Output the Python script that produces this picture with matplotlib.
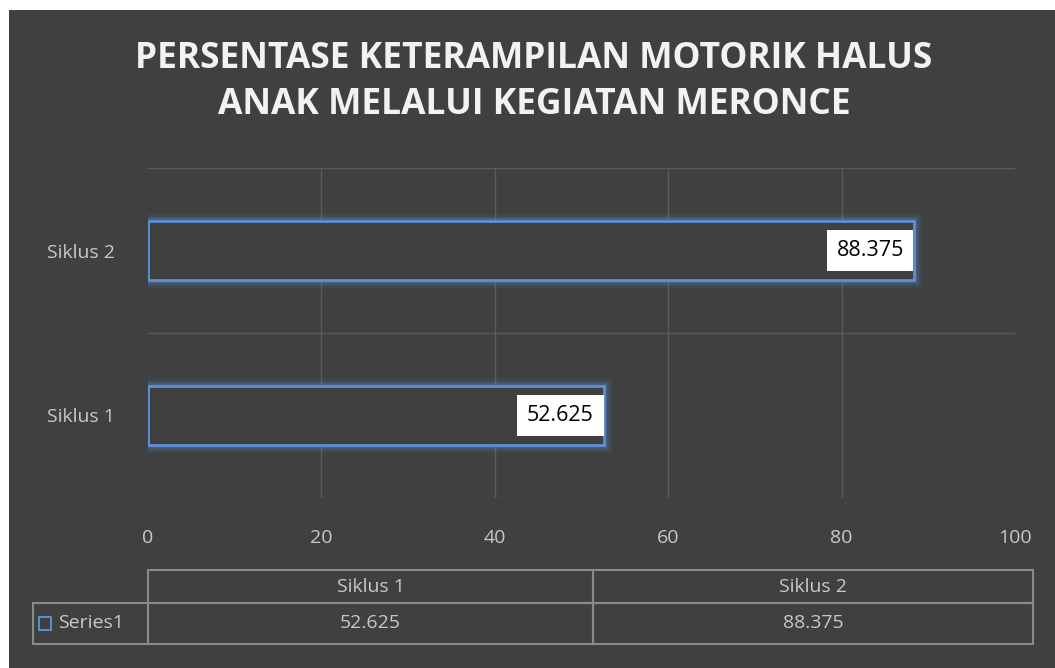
import matplotlib.pyplot as plt
from matplotlib.patches import Rectangle

# Data
categories = ['Siklus 1', 'Siklus 2']
values = [52.625, 88.375]
series_name = 'Series1'
x_ticks = [0, 20, 40, 60, 80, 100]
title = 'PERSENTASE KETERAMPILAN MOTORIK HALUS\nANAK MELALUI KEGIATAN MERONCE'

bg = '#404040'
blue = '#5b8fd8'
txt = '#c8c8c8'
grid = '#5a5a5a'

plt.rcParams['font.family'] = ['Open Sans', 'DejaVu Sans']

fig = plt.figure(figsize=(10.55, 6.68), dpi=100)
fig.patch.set_facecolor('white')
# dark panel (small white margin at top/left like the screenshot)
fig.add_artist(Rectangle((9 / 1055, 0), 1, 1 - 10 / 668, transform=fig.transFigure,
                         facecolor=bg, edgecolor='none', zorder=0))

ax = fig.add_axes([148 / 1055, 1 - 498 / 668, 867 / 1055, 330 / 668])
ax.set_facecolor(bg)
ax.patch.set_alpha(0)

pos = list(range(len(categories)))
bar_h = 0.36

# soft glow around the bars
for lw, a in [(12, 0.06), (9, 0.09), (6.5, 0.13), (4, 0.22)]:
    ax.barh(pos, values, height=bar_h, facecolor='none', edgecolor=blue,
            linewidth=lw, alpha=a, zorder=3)
ax.barh(pos, values, height=bar_h, facecolor=bg, edgecolor=blue,
        linewidth=2, zorder=4)

# value labels in white boxes at the bar end
for p, v in zip(pos, values):
    ax.text(v - 1.2, p, f'{v:g}', ha='right', va='center', fontsize=15.5,
            color='black', zorder=6,
            bbox=dict(boxstyle='square,pad=0.45', facecolor='white', edgecolor='none'))

ax.set_xlim(0, 100)
ax.set_ylim(-0.5, len(categories) - 0.5)
ax.set_xticks(x_ticks)
ax.set_yticks(pos)
ax.set_yticklabels(categories)
ax.tick_params(axis='both', length=0, colors=txt, labelsize=14)
ax.tick_params(axis='x', pad=22)
ax.tick_params(axis='y', pad=24)

for s in ax.spines.values():
    s.set_visible(False)
for xv in x_ticks[1:]:
    ax.axvline(xv, color=grid, linewidth=1, zorder=1)
for yv in [-0.5, 0.5, 1.5]:
    ax.axhline(yv, color=grid, linewidth=1, zorder=1)

fig.text(534 / 1055, 1 - 82 / 668, title, ha='center', va='center',
         fontsize=25.5, fontweight='bold', color='#f2f2f2', linespacing=1.35)

# data table under the chart
col_labels = [''] + categories
row = [series_name] + [f'{v:g}' for v in values]
x0 = (33 - 148) / 867
x1 = (1033 - 148) / 867
tb = ax.table(cellText=[col_labels, row], cellLoc='center',
              colWidths=[115, 445, 440],
              bbox=[x0, (498 - 644) / 330, x1 - x0, 74 / 330])
tb.auto_set_font_size(False)
for (r, c), cell in tb.get_celld().items():
    cell.set_facecolor('none')
    cell.set_edgecolor('#8a8a8a')
    cell.set_linewidth(1.5)
    cell.get_text().set_color(txt)
    cell.get_text().set_fontsize(14)
    cell.set_height(33 if r == 0 else 41)
    if r == 0 and c == 0:
        cell.visible_edges = ''
    if r == 1 and c == 0:
        cell._loc = 'right'
        cell.PAD = 0.03

# legend key square in front of Series1
ax.add_patch(Rectangle((x0 + 0.007, (498 - 630) / 330), 12 / 867, 13 / 330,
                       transform=ax.transAxes, facecolor='none', edgecolor=blue,
                       linewidth=1.4, clip_on=False))

fig.savefig('out.png', dpi=100, facecolor=fig.get_facecolor())
